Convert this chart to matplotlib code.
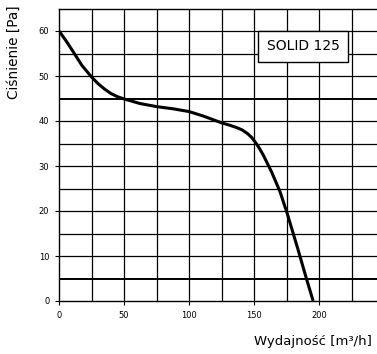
import matplotlib.pyplot as plt
import numpy as np

# curve
flow = [0, 5, 10, 17.5, 25, 30, 35, 40, 45, 50, 55, 62, 75, 88, 100, 111, 125, 132, 137,
        141, 145, 148, 151, 154, 157, 163.5, 170, 175.5, 184, 190, 195.5]
pressure = [60, 58, 55.8, 52.4, 49.8, 48.3, 47.1, 46.1, 45.4, 44.9, 44.5, 43.9, 43.2, 42.7, 42.1, 41.1, 39.6, 39, 38.5,
            38.0, 37.2, 36.4, 35.3, 34.0, 32.5, 28.7, 24.3, 19.5, 11.3, 5.3, 0]

x_ticks = [0, 50, 100, 150, 200, 250]
y_ticks = [0, 10, 20, 30, 40, 50, 60]
label = 'SOLID 125'

W, H = 377, 354
fig = plt.figure(figsize=(W / 100, H / 100), dpi=100)
ax = fig.add_axes([59 / W, 53 / H, (384 - 59) / W, (301 - 8.5) / H])
ax.set_xlim(0, 250)
ax.set_ylim(0, 65)

for gx in np.arange(25, 250, 25):
    ax.axvline(gx, color='black', lw=0.9, zorder=1)
for gy in np.arange(5, 65, 5):
    ax.axhline(gy, color='black', lw=1.4 if gy in (5, 45) else 0.9, zorder=1)

ax.plot(flow, pressure, color='black', lw=2.2, zorder=3,
        solid_capstyle='butt', solid_joinstyle='round')

ax.set_xticks(x_ticks)
ax.set_yticks(y_ticks)
ax.tick_params(labelsize=6, length=3, width=0.8, pad=4)
for s in ax.spines.values():
    s.set_linewidth(1.0)

fig.text(14 / W, 1 - 52 / H, 'Ciśnienie [Pa]', rotation=90, ha='center', va='center', fontsize=9.8)
fig.text(372 / W, 1 - 342 / H, 'Wydajność [m³/h]', ha='right', va='center', fontsize=9.5)

bx0, bx1 = (247 - 59) / 1.3, (359 - 59) / 1.3
ax.text((bx0 + bx1) / 2, (301 - 46.5) / 4.5, label, ha='center', va='center', fontsize=10,
        zorder=5, bbox=dict(boxstyle='square,pad=0.6', fc='white', ec='black', lw=1.0))

fig.savefig('out.png', dpi=100)
